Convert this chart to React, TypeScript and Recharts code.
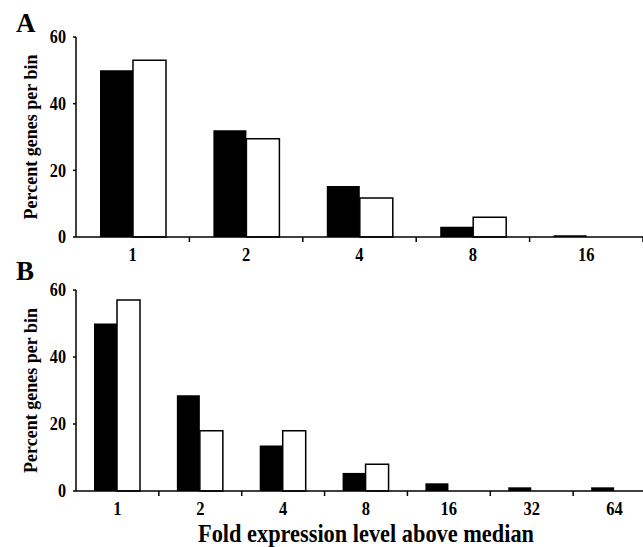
import { BarChart, Bar, XAxis, YAxis, Label } from "recharts";

const categoriesA = ["1", "2", "4", "8", "16"];
const blackA = [50, 32, 15.3, 3.1, 0.5];
const whiteA = [53, 29.5, 11.7, 5.9, 0];

const categoriesB = ["1", "2", "4", "8", "16", "32", "64"];
const blackB = [50, 28.6, 13.6, 5.4, 2.3, 1.1, 1.1];
const whiteB = [57, 18, 18, 8, 0, 0, 0];

const yTicks = [0, 20, 40, 60];

const FONT = '"Liberation Serif", "Times New Roman", serif';

const dataA = categoriesA.map((fold, i) => ({ fold, black: blackA[i], white: whiteA[i] }));
const dataB = categoriesB.map((fold, i) => ({ fold, black: blackB[i], white: whiteB[i] }));

const YTick = (props: any) => {
  const { x, y, payload } = props;
  return (
    <text
      transform={`translate(${x},${y}) scale(0.85,1)`}
      textAnchor="end"
      dominantBaseline="central"
      fontFamily={FONT}
      fontWeight="bold"
      fontSize={19}
      fill="#000"
    >
      {payload.value}
    </text>
  );
};

// label at band centre, small tick mark at the band's right edge
const XTick = (props: any) => {
  const { x, y, payload, band } = props;
  const half = payload.offset ?? band / 2;
  return (
    <g>
      <line x1={x + half} x2={x + half} y1={y} y2={y + 5} stroke="#000" strokeWidth={1.5} />
      <text
        transform={`translate(${x},${y + 18}) scale(0.92,1)`}
        textAnchor="middle"
        dominantBaseline="central"
        fontFamily={FONT}
        fontWeight="bold"
        fontSize={18}
        fill="#000"
      >
        {payload.value}
      </text>
    </g>
  );
};

const yLabel = (p: any) => {
  const vb = p.viewBox;
  const cx = vb.x + 31;
  const cy = vb.y + vb.height / 2;
  return (
    <text
      x={cx}
      y={cy}
      transform={`rotate(-90 ${cx} ${cy})`}
      textAnchor="middle"
      dominantBaseline="central"
      fontFamily={FONT}
      fontWeight="bold"
      fontSize={18}
      fill="#000"
    >
      Percent genes per bin
    </text>
  );
};

const xLabel = (p: any) => {
  const vb = p.viewBox;
  return (
    <text
      transform={`translate(${vb.x + vb.width / 2},${vb.y + vb.height - 5}) scale(0.86,1)`}
      textAnchor="middle"
      fontFamily={FONT}
      fontWeight="bold"
      fontSize={26}
      fill="#000"
    >
      Fold expression level above median
    </text>
  );
};

const letterStyle: React.CSSProperties = {
  position: "absolute",
  left: 16,
  fontFamily: FONT,
  fontWeight: "bold",
  fontSize: 27,
  lineHeight: 1,
  color: "#000",
};

const axisLine = { stroke: "#000", strokeWidth: 1.5 };

export default function App() {
  const bandA = (643 - 76) / categoriesA.length;
  const bandB = (656 - 76) / categoriesB.length;
  return (
    <div
      style={{
        position: "fixed",
        left: 0,
        top: 0,
        width: 643,
        height: 547,
        overflow: "hidden",
        background: "#fff",
      }}
    >
      <div style={{ ...letterStyle, top: 10 }}>A</div>
      <div style={{ ...letterStyle, top: 258 }}>B</div>

      <div style={{ position: "absolute", left: 0, top: 0 }}>
        <BarChart
          width={643}
          height={270}
          data={dataA}
          margin={{ top: 37, right: 0, left: 0, bottom: 0 }}
          barGap={0}
        >
          <XAxis
            dataKey="fold"
            height={33}
            axisLine={axisLine}
            tickLine={false}
            tickSize={0}
            tickMargin={0}
            interval={0}
            tick={(p: any) => <XTick {...p} band={bandA} />}
          />
          <YAxis
            width={76}
            domain={[0, 60]}
            ticks={yTicks}
            axisLine={axisLine}
            tickLine={axisLine}
            tickSize={3}
            tickMargin={7}
            tick={<YTick />}
          >
            <Label content={yLabel} />
          </YAxis>
          <Bar dataKey="black" fill="#000" barSize={33} isAnimationActive={false} />
          <Bar dataKey="white" fill="#fff" stroke="#000" strokeWidth={1.5} barSize={33} isAnimationActive={false} />
        </BarChart>
      </div>

      <div style={{ position: "absolute", left: 0, top: 270 }}>
        <BarChart
          width={656}
          height={277}
          data={dataB}
          margin={{ top: 20, right: 0, left: 0, bottom: 0 }}
          barGap={0}
        >
          <XAxis
            dataKey="fold"
            height={56}
            axisLine={axisLine}
            tickLine={false}
            tickSize={0}
            tickMargin={0}
            interval={0}
            tick={(p: any) => <XTick {...p} band={bandB} />}
          >
            <Label content={xLabel} />
          </XAxis>
          <YAxis
            width={76}
            domain={[0, 60]}
            ticks={yTicks}
            axisLine={axisLine}
            tickLine={axisLine}
            tickSize={3}
            tickMargin={7}
            tick={<YTick />}
          >
            <Label content={yLabel} />
          </YAxis>
          <Bar dataKey="black" fill="#000" barSize={23} isAnimationActive={false} />
          <Bar dataKey="white" fill="#fff" stroke="#000" strokeWidth={1.5} barSize={23} isAnimationActive={false} />
        </BarChart>
      </div>
    </div>
  );
}
